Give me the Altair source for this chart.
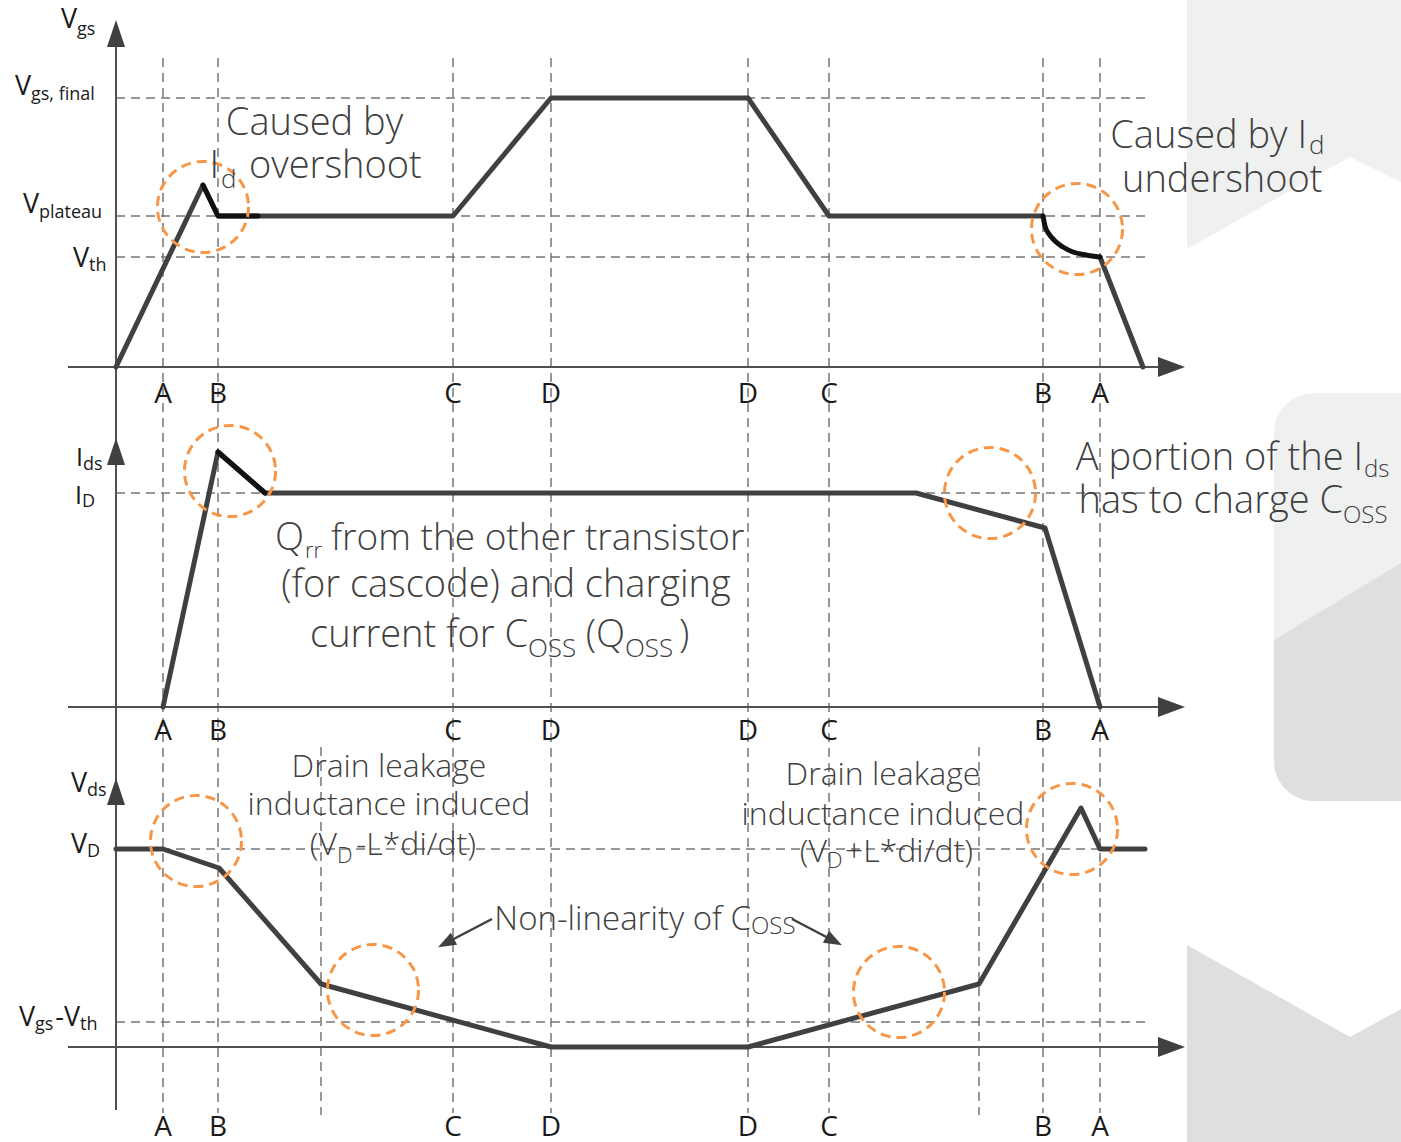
import altair as alt
import pandas as pd

# ---------------------------------------------------------------- data
# switching instants: turn-on A→B→C→D, turn-off D→C→B→A
event_names = ["A", "B", "C", "D", "D", "C", "B", "A"]
event_times = [4.7, 10.2, 33.7, 43.5, 63.2, 71.3, 92.7, 98.4]
knee_times = [20.5, 86.3]          # Coss knee points of Vds

# reference levels of each trace
vgs_levels = [26.9, 15.1, 11.0]    # Vgs,final / Vplateau / Vth
ids_levels = [21.4]                # ID
vds_levels = [19.8, 2.5]           # VD / Vgs-Vth

# gate-source voltage
vgs_on_t = [0, 8.7, 10.2, 33.7, 43.5, 63.2, 71.3, 92.7]
vgs_on_v = [0, 18.2, 15.1, 15.1, 26.9, 26.9, 15.1, 15.1]
vgs_tail_t = [98.4, 102.7]
vgs_tail_v = [11.0, 0]
vgs_overshoot_t = [8.7, 10.2, 14.2]
vgs_overshoot_v = [18.2, 15.1, 15.1]
vgs_undershoot_t = [92.7, 92.9, 93.3, 93.9, 94.7, 95.7, 97.0, 98.4]
vgs_undershoot_v = [15.1, 14.1, 13.3, 12.6, 12.0, 11.5, 11.2, 11.0]

# drain-source current
ids_t = [4.7, 10.2, 14.9, 80.0, 92.9, 98.4]
ids_v = [0, 25.5, 21.4, 21.4, 17.9, 0]
ids_peak_t = [10.2, 14.9]
ids_peak_v = [25.5, 21.4]

# drain-source voltage
vds_t = [0, 4.7, 10.3, 20.5, 43.5, 63.2, 86.3, 96.5, 98.4, 102.9]
vds_v = [19.8, 19.8, 17.9, 6.3, 0, 0, 6.3, 23.9, 19.8, 19.8]

# highlighted regions
circle_panel = ["vgs", "vgs", "ids", "ids", "vds", "vds", "vds", "vds"]
circle_t = [8.7, 96.1, 11.4, 87.4, 8.0, 25.7, 78.3, 95.6]
circle_v = [16.0, 13.8, 23.6, 21.4, 20.6, 5.7, 5.5, 21.8]

# ---------------------------------------------------------------- layout
# row position of each trace's zero line on the shared page scale
BASE = {"vgs": 36.7, "ids": 70.7, "vds": 104.7}
T_MIN, T_MAX = -11.6, 128.5
PAGE_H = 114.2
AXIS_START, AXIS_END, GRID_END = -4.8, 104.9, 102.9

DARK = "#404040"
INK = "#111111"
GRID = "#767676"
ORANGE = "#F79646"
LIGHT_BG = "#eff0f0"
DARK_BG = "#dfdfdf"
LABEL_FONT = "Open Sans"
NOTE_FONT = "Open Sans"


def row(panel, v):
    return BASE[panel] - v


XS = alt.Scale(domain=[T_MIN, T_MAX], nice=False, zero=False)
YS = alt.Scale(domain=[0, PAGE_H], nice=False, zero=False, reverse=True)


def X(f="t"):
    return alt.X(f"{f}:Q", scale=XS, axis=None)


def Y(f="y"):
    return alt.Y(f"{f}:Q", scale=YS, axis=None)


layers = []

# ---------------------------------------------------------------- backdrop
top_band = pd.DataFrame({"t": [107.1, 123.4, 128.5], "y": [24.9, 15.7, 18.2], "y2": [0, 0, 0]})
layers.append(alt.Chart(top_band).mark_area(color=LIGHT_BG, orient="vertical")
              .encode(x=X(), y=Y(), y2=alt.Y2("y2:Q")))

tab = pd.DataFrame({"t": [115.8], "t2": [T_MAX], "y": [39.3], "y2": [80.1]})
layers.append(alt.Chart(tab).mark_rect(color=LIGHT_BG, cornerRadiusTopLeft=40, cornerRadiusBottomLeft=40)
              .encode(x=X(), x2=alt.X2("t2:Q"), y=Y(), y2=alt.Y2("y2:Q")))
tab_low = pd.DataFrame({"t": [115.8], "t2": [T_MAX], "y": [56.3], "y2": [80.1]})
layers.append(alt.Chart(tab_low).mark_rect(color=DARK_BG, cornerRadiusBottomLeft=40)
              .encode(x=X(), x2=alt.X2("t2:Q"), y=Y(), y2=alt.Y2("y2:Q")))
tab_cut = pd.DataFrame({"t": [115.8, 128.5], "y": [56.3, 56.3], "y2": [64.0, 56.3]})
layers.append(alt.Chart(tab_cut).mark_area(color=LIGHT_BG, orient="vertical")
              .encode(x=X(), y=Y(), y2=alt.Y2("y2:Q")))

bottom_band = pd.DataFrame({"t": [107.1, 123.4, 128.5], "y": [94.5, 103.7, 100.9],
                            "y2": [PAGE_H] * 3})
layers.append(alt.Chart(bottom_band).mark_area(color=DARK_BG, orient="vertical")
              .encode(x=X(), y=Y(), y2=alt.Y2("y2:Q")))

# ---------------------------------------------------------------- dashed guides
hgrid = pd.DataFrame(
    [{"t": 0.0, "t2": GRID_END, "y": row("vgs", lv)} for lv in vgs_levels]
    + [{"t": 0.0, "t2": GRID_END, "y": row("ids", lv)} for lv in ids_levels]
    + [{"t": 0.0, "t2": GRID_END, "y": row("vds", lv)} for lv in vds_levels]
)
layers.append(alt.Chart(hgrid).mark_rule(color=GRID, strokeWidth=1.5, strokeDash=[9, 6])
              .encode(x=X(), x2=alt.X2("t2:Q"), y=Y()))

vgrid = pd.DataFrame(
    [{"t": tt, "y": row("vgs", 30.9), "y2": row("vds", -6.6)} for tt in event_times]
    + [{"t": tt, "y": row("vds", 30.0), "y2": row("vds", -6.8)} for tt in knee_times]
)
layers.append(alt.Chart(vgrid).mark_rule(color=GRID, strokeWidth=1.5, strokeDash=[9, 6])
              .encode(x=X(), y=Y(), y2=alt.Y2("y2:Q")))

# ---------------------------------------------------------------- axes
haxes = pd.DataFrame([{"t": AXIS_START, "t2": AXIS_END, "y": row(p, 0)} for p in BASE])
layers.append(alt.Chart(haxes).mark_rule(color="#505050", strokeWidth=2)
              .encode(x=X(), x2=alt.X2("t2:Q"), y=Y()))
vaxis = pd.DataFrame({"t": [0.0], "y": [row("vgs", 33.4)], "y2": [row("vds", -6.3)]})
layers.append(alt.Chart(vaxis).mark_rule(color="#505050", strokeWidth=2)
              .encode(x=X(), y=Y(), y2=alt.Y2("y2:Q")))

right_heads = pd.DataFrame([{"t": 105.55, "y": row(p, 0)} for p in BASE])
layers.append(alt.Chart(right_heads)
              .mark_point(shape="M1,0L-1,-0.74L-1,0.74Z", size=729, filled=True,
                          color="#404040", opacity=1)
              .encode(x=X(), y=Y()))
up_heads = pd.DataFrame({"t": [0.0, 0.0, 0.0],
                         "y": [row("vgs", 33.35), row("ids", 25.55), row("vds", 25.55)]})
layers.append(alt.Chart(up_heads)
              .mark_point(shape="M0,-1L0.67,1L-0.67,1Z", size=729, filled=True,
                          color="#404040", opacity=1)
              .encode(x=X(), y=Y()))

# ---------------------------------------------------------------- waveforms
def trace(name, panel, ts, vs):
    return [{"series": name, "i": i, "t": t, "y": row(panel, v)}
            for i, (t, v) in enumerate(zip(ts, vs))]


main_traces = pd.DataFrame(
    trace("vgs_on", "vgs", vgs_on_t, vgs_on_v)
    + trace("vgs_tail", "vgs", vgs_tail_t, vgs_tail_v)
    + trace("ids", "ids", ids_t, ids_v)
    + trace("vds", "vds", vds_t, vds_v)
)
layers.append(alt.Chart(main_traces)
              .mark_line(color=DARK, strokeWidth=5, strokeCap="round", strokeJoin="round")
              .encode(x=X(), y=Y(), detail="series:N", order="i:Q"))

hot_traces = pd.DataFrame(
    trace("vgs_over", "vgs", vgs_overshoot_t, vgs_overshoot_v)
    + trace("ids_peak", "ids", ids_peak_t, ids_peak_v)
)
layers.append(alt.Chart(hot_traces)
              .mark_line(color=INK, strokeWidth=5, strokeCap="round", strokeJoin="round")
              .encode(x=X(), y=Y(), detail="series:N", order="i:Q"))
hot_curve = pd.DataFrame(trace("vgs_under", "vgs", vgs_undershoot_t, vgs_undershoot_v))
layers.append(alt.Chart(hot_curve)
              .mark_line(color=INK, strokeWidth=5, strokeCap="round", interpolate="monotone")
              .encode(x=X(), y=Y(), order="i:Q"))

# ---------------------------------------------------------------- highlight rings
rings = pd.DataFrame({"t": circle_t,
                      "y": [row(p, v) for p, v in zip(circle_panel, circle_v)]})
layers.append(alt.Chart(rings)
              .mark_point(shape="circle", size=8300, filled=False, color=ORANGE,
                          strokeWidth=3, strokeDash=[10, 6], opacity=1)
              .encode(x=X(), y=Y()))

# ---------------------------------------------------------------- callout arrows
arrow_lines = pd.DataFrame({"t": [37.6, 67.6], "y": [row("vds", 12.8)] * 2,
                            "t2": [33.0, 71.8], "y2": [row("vds", 10.4), row("vds", 10.6)]})
layers.append(alt.Chart(arrow_lines).mark_rule(color="#404040", strokeWidth=2.5)
              .encode(x=X(), y=Y(), x2=alt.X2("t2:Q"), y2=alt.Y2("y2:Q")))
arrow_heads = pd.DataFrame({"t": [33.0, 71.8], "y": [row("vds", 10.4), row("vds", 10.6)],
                            "ang": [152.6, 27.5]})
layers.append(alt.Chart(arrow_heads)
              .mark_point(shape="M1,0L-1,-0.75L-1,0.75Z", size=324, filled=True,
                          color="#404040", opacity=1)
              .encode(x=X(), y=Y(), angle=alt.Angle("ang:Q", scale=None)))

# ---------------------------------------------------------------- text
labels = [
    ("vgs", -3.9, 33.9, "V", 27, "right"), ("vgs", -3.9, 33.2, "gs", 18, "left"),
    ("vgs", -8.5, 27.2, "V", 27, "right"), ("vgs", -8.5, 26.7, "gs, final", 18, "left"),
    ("vgs", -7.7, 15.4, "V", 27, "right"), ("vgs", -7.7, 14.9, "plateau", 18, "left"),
    ("vgs", -2.7, 10.0, "V", 27, "right"), ("vgs", -2.7, 9.6, "th", 18, "left"),
    ("ids", -3.3, 24.1, "I", 25, "right"), ("ids", -3.3, 23.7, "ds", 18, "left"),
    ("ids", -3.4, 20.3, "I", 25, "right"), ("ids", -3.4, 20.0, "D", 18, "left"),
    ("vds", -2.9, 25.5, "V", 27, "right"), ("vds", -2.9, 25.1, "ds", 18, "left"),
    ("vds", -2.9, 19.4, "V", 27, "right"), ("vds", -2.9, 19.0, "D", 18, "left"),
    ("vds", -8.1, 2.1, "V", 27, "right"), ("vds", -8.1, 1.7, "gs", 18, "left"),
    ("vds", -3.6, 2.1, "-V", 27, "right"), ("vds", -3.6, 1.7, "th", 18, "left"),
]
letter_baseline = {"vgs": -3.6, "ids": -3.3, "vds": -8.9}
for p, base in letter_baseline.items():
    for name, tt in zip(event_names, event_times):
        labels.append((p, tt, base, name, 28, "center"))

notes = [
    ("vgs", 19.85, 23.2, "Caused by", 38, "center"),
    ("vgs", 10.3, 18.9, "I", 38, "right"),
    ("vgs", 10.5, 17.9, "d", 26, "left"),
    ("vgs", 13.3, 18.9, "overshoot", 38, "left"),
    ("vgs", 119.1, 21.9, "Caused by I", 38, "right"),
    ("vgs", 119.3, 21.3, "d", 26, "left"),
    ("vgs", 100.6, 17.5, "undershoot", 38, "left"),
    ("ids", 18.8, 15.7, "Q", 38, "right"),
    ("ids", 18.9, 14.9, "rr", 22, "left"),
    ("ids", 21.5, 15.7, "from the other transistor", 37, "left"),
    ("ids", 39.0, 11.0, "(for cascode) and charging", 38, "center"),
    ("ids", 41.2, 6.0, "current for C", 38, "right"),
    ("ids", 41.2, 5.0, "OSS", 26, "left"),
    ("ids", 50.9, 6.0, "(Q", 38, "right"),
    ("ids", 50.9, 5.0, "OSS", 26, "left"),
    ("ids", 56.3, 6.0, ")", 38, "left"),
    ("ids", 124.7, 23.7, "A portion of the I", 38, "right"),
    ("ids", 124.8, 23.0, "ds", 24, "left"),
    ("ids", 122.7, 19.4, "has to charge C", 38, "right"),
    ("ids", 122.7, 18.4, "OSS", 24, "left"),
    ("vds", 27.3, 27.0, "Drain leakage", 32, "center"),
    ("vds", 27.3, 23.2, "inductance induced", 32, "center"),
    ("vds", 22.1, 19.2, "(V", 32, "right"),
    ("vds", 22.1, 18.4, "D", 22, "left"),
    ("vds", 24.0, 19.2, "-L*di/dt)", 32, "left"),
    ("vds", 76.7, 26.2, "Drain leakage", 32, "center"),
    ("vds", 76.7, 22.2, "inductance induced", 32, "center"),
    ("vds", 71.1, 18.5, "(V", 32, "right"),
    ("vds", 71.1, 17.9, "D", 22, "left"),
    ("vds", 72.9, 18.5, "+L*di/dt)", 32, "left"),
    ("vds", 63.5, 11.7, "Non-linearity of C", 33, "right"),
    ("vds", 63.5, 11.3, "OSS", 24, "left"),
]


def text_layers(rows, font, weight, color):
    df = pd.DataFrame(rows, columns=["panel", "t", "v", "text", "fs", "align"])
    df["y"] = [row(p, v) for p, v in zip(df["panel"], df["v"])]
    out = []
    for al in ["left", "center", "right"]:
        sub = df[df["align"] == al]
        if sub.empty:
            continue
        out.append(alt.Chart(sub)
                   .mark_text(align=al, baseline="alphabetic", font=font,
                              fontWeight=weight, color=color)
                   .encode(x=X(), y=Y(), text="text:N",
                           size=alt.Size("fs:Q", scale=None)))
    return out


layers += text_layers(labels, LABEL_FONT, 400, "#1a1a1a")
layers += text_layers(notes, NOTE_FONT, 300, "#404040")

chart = (
    alt.layer(*layers)
    .properties(width=1401, height=1142, padding=0,
                autosize=alt.AutoSizeParams(type="none"), background="white")
    .configure_view(stroke=None)
)

chart.save("out.html", embed_options={"renderer": "svg", "actions": False})
